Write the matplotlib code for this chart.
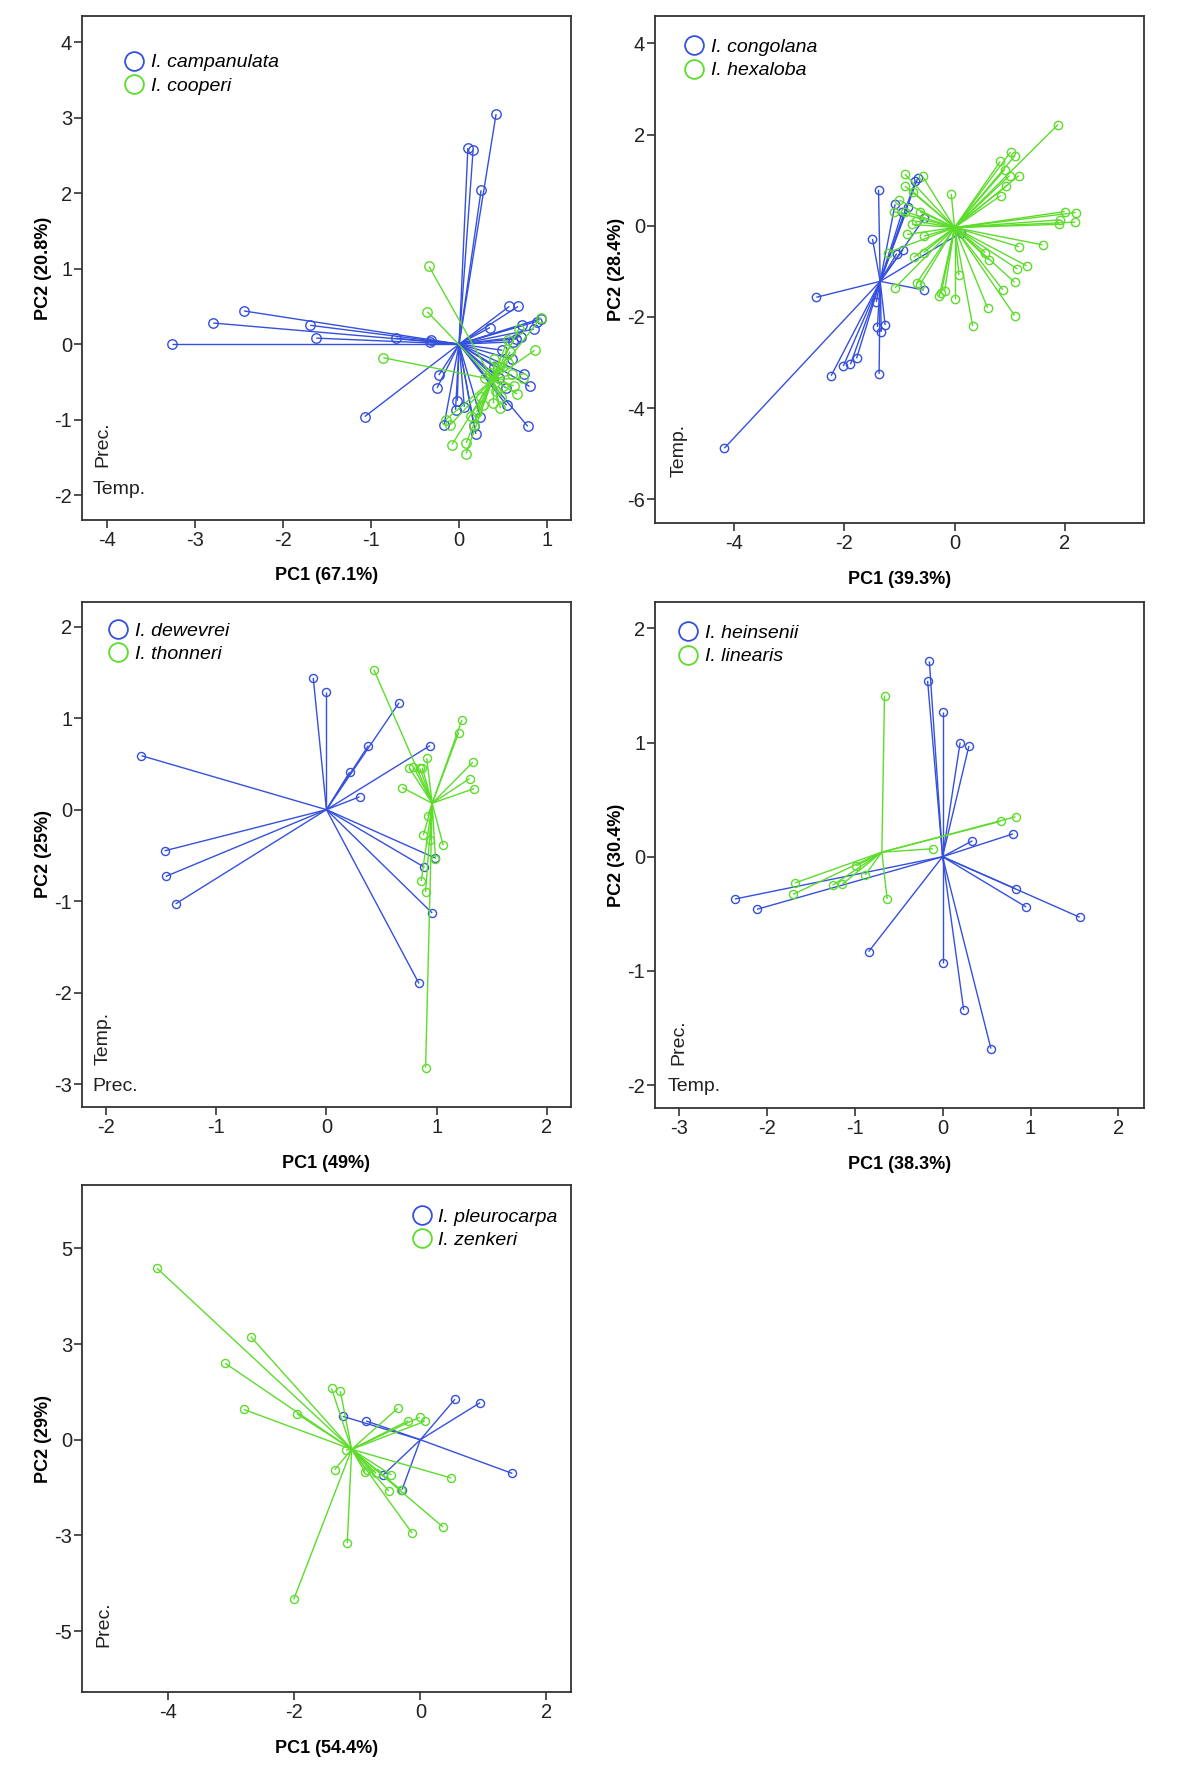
import matplotlib
matplotlib.use("Agg")
import matplotlib.pyplot as plt
from matplotlib.collections import LineCollection
from matplotlib.lines import Line2D

plt.rcParams['font.family'] = ['Liberation Sans', 'DejaVu Sans']
plt.rcParams['axes.unicode_minus'] = False

BLUE = '#3550dc'
GREEN = '#5ddc2c'

# ---- panel 1: I. campanulata / I. cooperi ----
camp_center = (0.0, 0.0)
camp_x = [0.42, 0.10, 0.16, 0.25, -2.44, -2.79, -1.69, -1.62, -3.26, -0.72, -0.32, -0.33,
          -1.07, 0.57, 0.67, 0.35, 0.93, 0.85, 0.71, 0.65, 0.61, 0.49, 0.74, 0.80, -0.23,
          -0.25, -0.02, -0.04, -0.17, 0.06, 0.24, 0.17, 0.19, 0.54, 0.78, 0.53, 0.45, 0.40,
          0.60, 0.88, 0.70]
camp_y = [3.05, 2.60, 2.58, 2.04, 0.44, 0.28, 0.25, 0.08, 0.00, 0.08, 0.05, 0.03,
          -0.96, 0.50, 0.50, 0.22, 0.34, 0.20, 0.25, 0.07, 0.03, -0.08, -0.39, -0.56, -0.41,
          -0.58, -0.75, -0.87, -1.07, -0.83, -0.96, -1.09, -1.19, -0.81, -1.09, -0.58, -0.45,
          -0.30, -0.20, 0.30, 0.10]
coop_center = (0.38, -0.47)
coop_x = [-0.34, -0.36, -0.86, 0.93, 0.86, 0.66, 0.47, 0.38, -0.15, -0.10, -0.08, 0.08,
          0.08, 0.17, 0.27, 0.20, 0.45, 0.55, 0.60, 0.62, 0.50, 0.42, 0.35, 0.30, 0.55,
          0.68, 0.72, 0.48, 0.58, 0.40, 0.25, 0.13]
coop_y = [1.03, 0.43, -0.18, 0.35, -0.08, -0.66, -0.85, -0.78, -1.00, -1.07, -1.33, -1.31,
          -1.45, -1.07, -0.81, -0.90, -0.30, -0.25, -0.40, -0.55, -0.55, -0.62, -0.38, -0.45,
          0.05, 0.20, -0.45, -0.70, -0.10, -0.20, -0.70, -0.95]

# ---- panel 2: I. congolana / I. hexaloba ----
cong_center = (-1.35, -1.22)
cong_x = [-4.18, -2.51, -2.24, -2.02, -1.89, -1.78, -1.37, -1.40, -1.33, -1.26, -1.42, -0.56,
          -1.49, -1.38, -1.08, -0.94, -1.05, -0.67, -0.71, -0.55, 0.11, -0.85, -0.95]
cong_y = [-4.88, -1.57, -3.29, -3.08, -3.04, -2.91, -3.25, -2.22, -2.33, -2.18, -1.67, -1.41,
          -0.29, 0.79, 0.47, -0.53, -0.61, 1.04, 0.98, 0.16, -0.16, 0.40, 0.30]
hexa_center = (0.0, -0.04)
hexa_x = [1.88, 1.02, 1.10, 0.83, 0.91, 1.17, 1.00, 0.94, 0.84, -0.06, 2.00, 2.20, 1.92,
          2.19, 1.90, 1.60, 1.17, 0.56, 0.62, 1.31, 1.14, 1.09, 0.88, 0.60, 1.09, 0.33,
          0.00, 0.08, -0.18, -0.24, -0.28, -1.08, -0.69, -0.63, -0.74, -0.56, -0.56, -0.86,
          -0.77, -0.70, -0.90, -1.10, -0.63, -1.00, -0.90, -0.90, -0.58, -0.76, -1.21]
hexa_y = [2.22, 1.62, 1.54, 1.41, 1.23, 1.10, 1.10, 0.87, 0.66, 0.70, 0.31, 0.29, 0.13,
          0.08, 0.03, -0.42, -0.46, -0.59, -0.75, -0.88, -0.95, -1.24, -1.41, -1.80, -1.97,
          -2.20, -1.61, -1.09, -1.43, -1.47, -1.55, -1.36, -1.26, -1.30, -0.69, -0.59, -0.23,
          -0.19, 0.03, 0.10, 0.31, 0.31, 0.31, 0.56, 0.87, 1.13, 1.08, 0.75, -0.59]

# ---- panel 3: I. dewevrei / I. thonneri ----
dewe_center = (0.0, 0.0)
dewe_x = [-1.68, -1.47, -1.46, -1.37, -0.12, 0.00, 0.66, 0.38, 0.21, 0.30, 0.94, 0.99,
          0.89, 0.96, 0.84]
dewe_y = [0.59, -0.45, -0.73, -1.03, 1.44, 1.29, 1.17, 0.70, 0.41, 0.14, 0.70, -0.53,
          -0.63, -1.13, -1.90]
thon_center = (0.96, 0.07)
thon_x = [0.43, 1.23, 1.20, 1.33, 1.30, 1.34, 0.69, 0.75, 0.79, 0.85, 0.87, 0.91, 0.92,
          0.88, 0.94, 1.06, 0.99, 0.86, 0.90, 0.90]
thon_y = [1.53, 0.98, 0.84, 0.52, 0.34, 0.23, 0.24, 0.46, 0.47, 0.45, 0.46, 0.56, -0.07,
          -0.28, -0.33, -0.39, -0.54, -0.78, -0.90, -2.82]

# ---- panel 4: I. heinsenii / I. linearis ----
hein_center = (0.0, 0.0)
hein_x = [-0.15, -0.17, 0.00, 0.20, 0.30, 0.34, 0.80, 0.83, 0.95, 1.56, 0.55, 0.24, 0.00,
          -0.84, -2.11, -2.36]
hein_y = [1.71, 1.54, 1.27, 1.00, 0.97, 0.14, 0.20, -0.28, -0.44, -0.53, -1.68, -1.34,
          -0.93, -0.83, -0.46, -0.37]
line_center = (-0.69, 0.04)
line_x = [-0.66, -0.63, 0.83, 0.66, -0.11, -1.68, -1.70, -1.25, -1.14, -0.88, -0.98]
line_y = [1.41, -0.37, 0.35, 0.31, 0.07, -0.23, -0.33, -0.25, -0.24, -0.16, -0.08]

# ---- panel 5: I. pleurocarpa / I. zenkeri ----
pleu_center = (0.0, 0.0)
pleu_x = [0.55, 0.95, 1.46, -1.23, -0.86, -0.59, -0.29]
pleu_y = [1.06, 0.97, -0.88, 0.61, 0.49, -0.92, -1.30]
zenk_center = (-1.09, -0.25)
zenk_x = [-4.18, -2.69, -3.10, -2.80, -1.96, -1.41, -1.27, -0.36, -0.19, -0.01, 0.07, -1.18,
          -1.36, -0.88, -0.70, -0.46, -0.50, -0.30, 0.49, 0.36, -0.13, -1.16, -2.01, -0.85]
zenk_y = [4.48, 2.69, 2.00, 0.79, 0.68, 1.34, 1.27, 0.82, 0.50, 0.59, 0.48, -0.27,
          -0.78, -0.84, -0.88, -0.92, -1.34, -1.32, -1.00, -2.28, -2.44, -2.70, -4.17, -0.80]

panels = [
    dict(rect=[0.0683, 0.7079, 0.4075, 0.2831], xlim=(-4.28, 1.27), ylim=(-2.33, 4.35),
         xticks=[-4, -3, -2, -1, 0, 1], yticks=[-2, -1, 0, 1, 2, 3, 4], yticklabels=None,
         xlabel='PC1 (67.1%)', ylabel='PC2 (20.8%)', ms=6.8,
         groups=[('I. campanulata', BLUE, camp_center, camp_x, camp_y),
                 ('I. cooperi', GREEN, coop_center, coop_x, coop_y)],
         leg=(0.0865, 0.925), vert=('Prec.', 0.042, 0.105), horiz=('Temp.', 0.022, 0.061)),
    dict(rect=[0.5458, 0.7062, 0.4075, 0.2848], xlim=(-5.44, 3.44), ylim=(-6.52, 4.6),
         xticks=[-4, -2, 0, 2], yticks=[-6, -4, -2, 0, 2, 4], yticklabels=None,
         xlabel='PC1 (39.3%)', ylabel='PC2 (28.4%)', ms=6.0,
         groups=[('I. congolana', BLUE, cong_center, cong_x, cong_y),
                 ('I. hexaloba', GREEN, hexa_center, hexa_x, hexa_y)],
         leg=(0.0605, 0.956), vert=('Temp.', 0.049, 0.090), horiz=None),
    dict(rect=[0.0683, 0.3781, 0.4075, 0.2837], xlim=(-2.22, 2.22), ylim=(-3.25, 2.27),
         xticks=[-2, -1, 0, 1, 2], yticks=[-3, -2, -1, 0, 1, 2], yticklabels=None,
         xlabel='PC1 (49%)', ylabel='PC2 (25%)', ms=5.8,
         groups=[('I. dewevrei', BLUE, dewe_center, dewe_x, dewe_y),
                 ('I. thonneri', GREEN, thon_center, thon_x, thon_y)],
         leg=(0.054, 0.960), vert=('Temp.', 0.044, 0.083), horiz=('Prec.', 0.022, 0.040)),
    dict(rect=[0.5458, 0.3775, 0.4075, 0.2843], xlim=(-3.27, 2.29), ylim=(-2.2, 2.23),
         xticks=[-3, -2, -1, 0, 1, 2], yticks=[-2, -1, 0, 1, 2], yticklabels=None,
         xlabel='PC1 (38.3%)', ylabel='PC2 (30.4%)', ms=5.8,
         groups=[('I. heinsenii', BLUE, hein_center, hein_x, hein_y),
                 ('I. linearis', GREEN, line_center, line_x, line_y)],
         leg=(0.048, 0.956), vert=('Prec.', 0.049, 0.085), horiz=('Temp.', 0.025, 0.043)),
    dict(rect=[0.0683, 0.0494, 0.4075, 0.2848], xlim=(-5.37, 2.39), ylim=(-6.59, 6.65),
         xticks=[-4, -2, 0, 2], yticks=[-5, -2.5, 0, 2.5, 5],
         yticklabels=['-5', '-3', '0', '3', '5'],
         xlabel='PC1 (54.4%)', ylabel='PC2 (29%)', ms=5.8,
         groups=[('I. pleurocarpa', BLUE, pleu_center, pleu_x, pleu_y),
                 ('I. zenkeri', GREEN, zenk_center, zenk_x, zenk_y)],
         leg=(0.675, 0.955), vert=('Prec.', 0.044, 0.088), horiz=None),
]

fig = plt.figure(figsize=(12, 17.8), dpi=100)

for p in panels:
    ax = fig.add_axes(p['rect'])
    handles = []
    for name, color, center, xs, ys in p['groups']:
        segs = [[center, (x, y)] for x, y in zip(xs, ys)]
        ax.add_collection(LineCollection(segs, colors=color, linewidths=1.0))
        ax.plot(xs, ys, 'o', ms=p['ms'], mfc='none', mec=color, mew=1.0, ls='none')
        handles.append(Line2D([], [], marker='o', ls='none', ms=13.5, mfc='none',
                              mec=color, mew=1.3, label=name))
    ax.set_xlim(*p['xlim'])
    ax.set_ylim(*p['ylim'])
    ax.set_xticks(p['xticks'])
    ax.set_yticks(p['yticks'])
    if p['yticklabels']:
        ax.set_yticklabels(p['yticklabels'])
    ax.tick_params(direction='out', length=5.5, width=1.1, labelsize=14.5, colors='#222222')
    ax.tick_params(axis='y', pad=1.5)
    ax.tick_params(axis='x', pad=2.5)
    for s in ax.spines.values():
        s.set_linewidth(1.3)
        s.set_color('#333333')
    ax.set_xlabel(p['xlabel'], fontsize=13, fontweight='bold')
    ax.set_ylabel(p['ylabel'], fontsize=13, fontweight='bold')
    ax.xaxis.set_label_coords(0.5, -0.111)
    ax.yaxis.set_label_coords(-0.078, 0.5)
    ax.xaxis.label.set_va('center')
    ax.yaxis.label.set_va('center')

    leg = ax.legend(handles=handles, loc='upper left', bbox_to_anchor=p['leg'],
                    frameon=False, fontsize=14, handletextpad=0.35, handlelength=1.0,
                    borderaxespad=0, borderpad=0, labelspacing=0.3)
    for t in leg.get_texts():
        t.set_fontstyle('italic')

    vtxt, vx, vy = p['vert']
    ax.text(vx, vy, vtxt, transform=ax.transAxes, rotation=90, ha='center', va='bottom',
            fontsize=14, color='#222222')
    if p['horiz']:
        htxt, hx, hy = p['horiz']
        ax.text(hx, hy, htxt, transform=ax.transAxes, ha='left', va='center',
                fontsize=14, color='#222222')

fig.savefig('out.png', dpi=100)
